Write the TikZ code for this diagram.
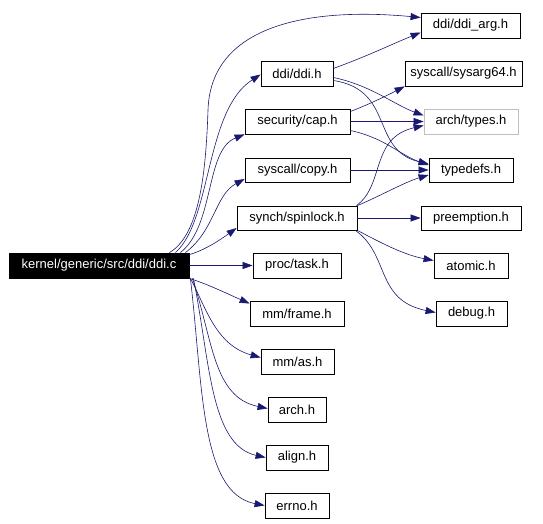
\documentclass[tikz,border=0pt]{standalone}
\usepackage{fontspec}
\setmainfont{Liberation Sans}
\usetikzlibrary{arrows.meta}

\definecolor{edgeblue}{HTML}{191970}
\definecolor{ghost}{HTML}{BFBFBF}

\tikzset{
  file/.style={draw, rectangle, line width=0.8, minimum height=25, inner sep=0,
    font=\fontsize{13}{15}\selectfont},
  dep/.style={draw=edgeblue, line width=0.6, -{Triangle[length=10, width=7]}}
}

\begin{document}
\begin{tikzpicture}[x=1pt, y=-1pt]
\useasboundingbox (0,0) rectangle (543,524);

% the source file
\node[file, fill=black, text=white, minimum width=180] (ddic) at (99,265.5) {kernel/generic/src/ddi/ddi.c};

% first level
\node[file, minimum width=72] (ddih) at (297,73.5) {ddi/ddi.h};
\node[file, minimum width=105] (cap) at (297.5,121.5) {security/cap.h};
\node[file, minimum width=105, minimum height=24] (copy) at (297.5,170) {syscall/copy.h};
\node[file, minimum width=120, minimum height=24] (spinlock) at (297,218) {synch/spinlock.h};
\node[file, minimum width=88] (task) at (297,265.5) {proc/task.h};
\node[file, minimum width=94] (frame) at (297,313.5) {mm/frame.h};
\node[file, minimum width=73] (as) at (297.5,361.5) {mm/as.h};
\node[file, minimum width=58] (arch) at (297,409.5) {arch.h};
\node[file, minimum width=62] (align) at (297,457.5) {align.h};
\node[file, minimum width=64] (errno) at (297,505.5) {errno.h};

% second level
\node[file, minimum width=99] (ddiarg) at (470.5,25.5) {ddi/ddi\_arg.h};
\node[file, minimum width=117] (sysarg) at (463.5,73.5) {syscall/sysarg64.h};
\node[file, draw=ghost, minimum width=94] (types) at (471,121.5) {arch/types.h};
\node[file, minimum width=84, minimum height=24] (typedefs) at (471,170) {typedefs.h};
\node[file, minimum width=100, minimum height=24] (preempt) at (471,218) {preemption.h};
\node[file, minimum width=74] (atomic) at (471,265.5) {atomic.h};
\node[file, minimum width=71] (debug) at (471.5,313.5) {debug.h};

% ddi.c includes
\draw[dep] ([xshift=-20]ddic.north east) .. controls (200,235) and (206,170) .. (208,110)
  .. controls (211,20) and (320,8) .. ([yshift=8]ddiarg.west);
\draw[dep] ([xshift=-14]ddic.north east) .. controls (212,220) and (205,110) .. ([yshift=-1]ddih.west);
\draw[dep] ([xshift=-9]ddic.north east) .. controls (215,225) and (205,150) .. (cap.south west);
\draw[dep] ([xshift=-4]ddic.north east) .. controls (215,230) and (215,195) .. ([yshift=-9]copy.west);
\draw[dep] ([yshift=-2]ddic.north east) .. controls (205,250) and (220,240) .. ([yshift=-10]spinlock.west);
\draw[dep] (ddic.east) -- (task.west);
\draw[dep] (ddic.south east) .. controls (210,285) and (230,295) .. ([yshift=10]frame.west);
\draw[dep] ([xshift=1]ddic.south east) .. controls (205,305) and (215,345) .. ([yshift=4]as.west);
\draw[dep] ([xshift=3]ddic.south east) .. controls (213,340) and (213,397) .. ([yshift=1]arch.west);
\draw[dep] ([xshift=4]ddic.south east) .. controls (210,360) and (210,445) .. (align.west);
\draw[dep] ([xshift=1]ddic.south east) .. controls (203,385) and (200,493) .. (errno.west);

% ddi.h includes
\draw[dep] ([yshift=5]ddih.east) .. controls (370,55) and (390,45) .. ([yshift=-7]ddiarg.west);
\draw[dep] ([yshift=-4]ddih.east) .. controls (370,85) and (395,105) .. ([yshift=6]types.west);
\draw[dep] ([yshift=-7]ddih.east) .. controls (395,90) and (370,150) .. ([yshift=6]typedefs.west);

% cap.h includes
\draw[dep] ([yshift=10]cap.east) .. controls (370,104) and (390,94) .. (sysarg.south west);
\draw[dep] (cap.east) -- (types.west);
\draw[dep] ([yshift=-9]cap.east) .. controls (385,138) and (400,155) .. ([yshift=5]typedefs.west);

% copy.h includes
\draw[dep] (copy.east) -- (typedefs.west);

% spinlock.h includes
\draw[dep] (spinlock.north east) .. controls (380,196) and (405,182) .. ([yshift=-5]typedefs.west);
\draw[dep] ([xshift=-1]spinlock.north east) .. controls (385,185) and (370,138) .. ([yshift=-4]types.west);
\draw[dep] (spinlock.east) -- (preempt.west);
\draw[dep] (spinlock.south east) .. controls (385,245) and (405,255) .. ([yshift=5]atomic.west);
\draw[dep] ([xshift=-2]spinlock.south east) .. controls (390,255) and (375,300) .. ([yshift=1]debug.west);

\end{tikzpicture}
\end{document}
